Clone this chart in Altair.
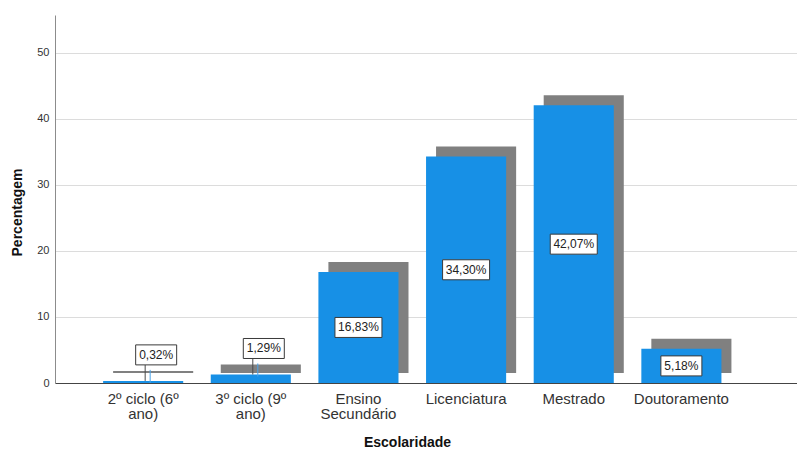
import altair as alt
import pandas as pd

# Distribuição dos inquiridos por escolaridade (%)
categorias = [
    "2º ciclo (6º ano)",
    "3º ciclo (9º ano)",
    "Ensino Secundário",
    "Licenciatura",
    "Mestrado",
    "Doutoramento",
]
percentagens = [0.32, 1.29, 16.83, 34.30, 42.07, 5.18]
rotulos = ["0,32%", "1,29%", "16,83%", "34,30%", "42,07%", "5,18%"]
marcas_y = [0, 10, 20, 30, 40, 50]

df = pd.DataFrame({"Escolaridade": categorias, "Percentagem": percentagens, "Rotulo": rotulos})

AZUL = "#1790e6"
SOMBRA = "#808080"
FONTE = "Liberation Sans"

# split long category names onto two lines
label_expr = (
    "split(datum.label == 'Ensino Secundário' ? 'Ensino|Secundário' "
    ": replace(datum.label, ' ano)', '|ano)'), '|')"
)

eixo_x = alt.Axis(
    title="Escolaridade",
    labelAngle=0,
    labelExpr=label_expr,
    labelFont=FONTE,
    labelFontSize=15,
    labelLineHeight=15,
    labelColor="#333333",
    labelPadding=8,
    labelBaseline="top",
    ticks=False,
    grid=False,
    domainColor="#444444",
    domainWidth=1,
    titleFont=FONTE,
    titleFontSize=14,
    titleFontWeight="bold",
    titleColor="#111111",
    titleX=352,
    titleY=59,
    titleBaseline="middle",
)

eixo_y = alt.Axis(
    title="Percentagem",
    values=marcas_y,
    labelFont=FONTE,
    labelFontSize=11,
    labelColor="#333333",
    labelPadding=6,
    ticks=False,
    grid=True,
    gridColor="#dcdcdc",
    gridWidth=1.2,
    domainColor="#8c8c8c",
    titleFont=FONTE,
    titleFontSize=14,
    titleFontWeight="bold",
    titleColor="#111111",
    titleX=-38,
    titleY=197,
    titleBaseline="middle",
)

x_scale = alt.Scale(paddingInner=0.256, paddingOuter=0.5745, align=0.389)
y_scale = alt.Scale(domain=[0, 55.75], nice=False, zero=True)


def xe():
    return alt.X("Escolaridade:N", sort=categorias, scale=x_scale, axis=eixo_x)


def ye(campo):
    return alt.Y(campo, scale=y_scale, axis=eixo_y)


base = alt.Chart(df)

# offset grey shadow behind each bar
sombra = base.mark_bar(color=SOMBRA, xOffset=10, yOffset=-10, y2Offset=-10).encode(
    x=xe(), y=ye("Percentagem:Q")
)

barras = base.mark_bar(color=AZUL).encode(x=xe(), y=ye("Percentagem:Q"))

GRANDE = "datum.Percentagem >= 3"
PEQUENO = "datum.Percentagem < 3"


def caixa(filtro, largura, dx, dy, campo):
    meia = 10 / (largura / 2)
    forma = f"M-1,-{meia:.4f}L1,-{meia:.4f}L1,{meia:.4f}L-1,{meia:.4f}Z"
    return (
        base.transform_filter(filtro)
        .transform_calculate(pos="datum.Percentagem / 2")
        .mark_point(
            shape=forma,
            size=largura * largura,
            filled=True,
            fill="white",
            stroke="#3a3a3a",
            strokeWidth=1,
            opacity=1,
            xOffset=dx,
            yOffset=dy,
        )
        .encode(x=xe(), y=ye(campo))
    )


def texto(filtro, dx, dy, campo):
    return (
        base.transform_filter(filtro)
        .transform_calculate(pos="datum.Percentagem / 2")
        .mark_text(
            font=FONTE,
            fontSize=12,
            color="#222222",
            align="center",
            baseline="middle",
            dx=dx,
            dy=dy,
        )
        .encode(x=xe(), y=ye(campo), text="Rotulo:N")
    )


# leader lines for the labels of the smallest bars
guia = (
    base.transform_filter(PEQUENO)
    .mark_rule(color="#4a4a4a", strokeWidth=1, xOffset=2, y2Offset=-16)
    .encode(x=xe(), y=ye("Percentagem:Q"), y2="Percentagem:Q")
)
guia_azul = (
    base.transform_filter(PEQUENO)
    .mark_rule(color="#4aa3ea", strokeWidth=1, xOffset=7, yOffset=2, y2Offset=-11)
    .encode(x=xe(), y=ye("Percentagem:Q"), y2="Percentagem:Q")
)

camadas = [
    sombra,
    barras,
    guia,
    guia_azul,
    caixa(PEQUENO, 41, 13, -26, "Percentagem:Q"),
    caixa(GRANDE + " && length(datum.Rotulo) == 5", 41, 0, 0, "pos:Q"),
    caixa(GRANDE + " && length(datum.Rotulo) == 6", 47, 0, 0, "pos:Q"),
    texto(PEQUENO, 13, -26, "Percentagem:Q"),
    texto(GRANDE, 0, 0, "pos:Q"),
]

chart = (
    alt.layer(*camadas)
    .properties(
        width=742,
        height=368,
        autosize=alt.AutoSizeParams(type="none"),
        padding={"left": 55, "top": 15, "right": 0, "bottom": 67},
        background="white",
    )
    .configure_view(stroke=None)
)

chart.save("out.html", embed_options={"renderer": "svg", "actions": False})
